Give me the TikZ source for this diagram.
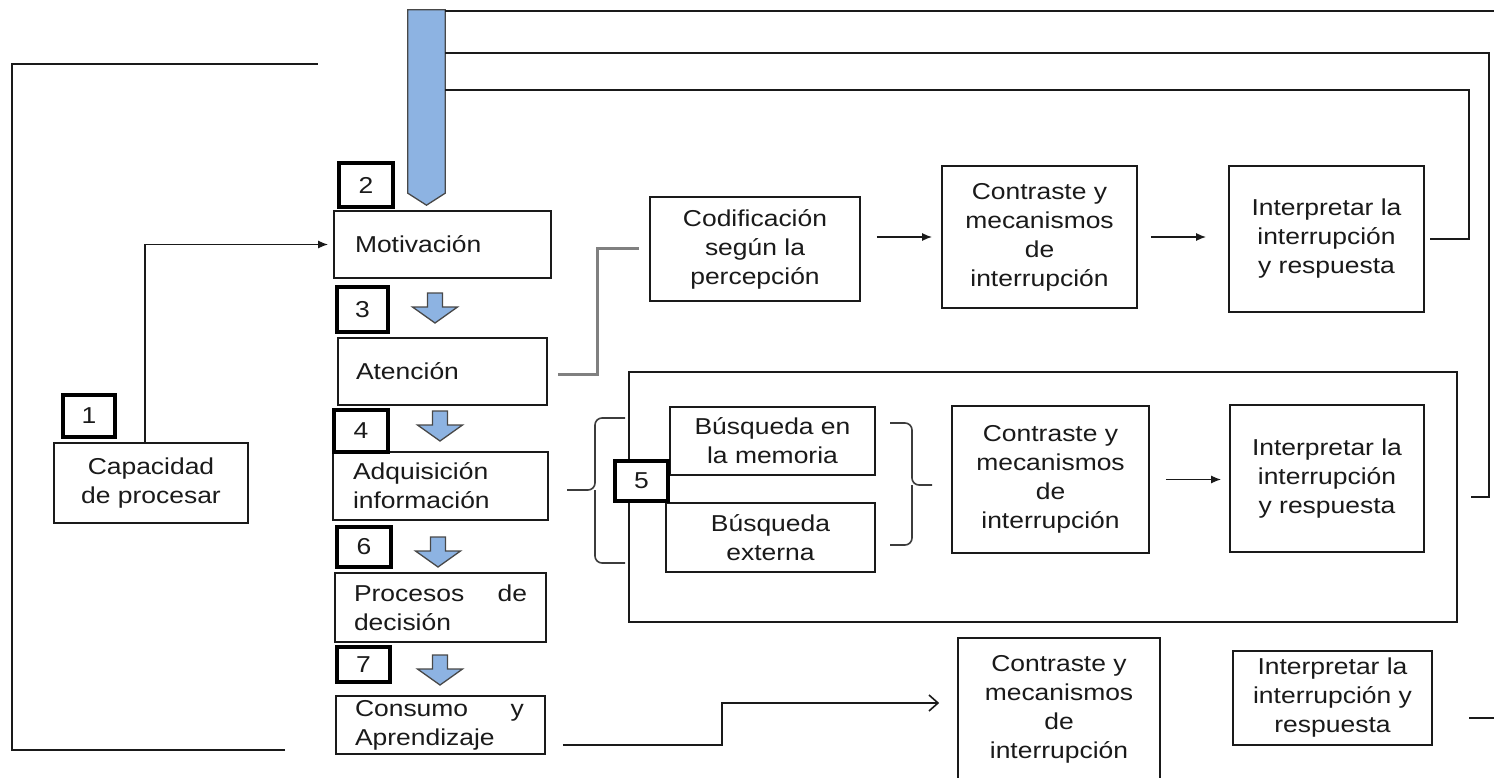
\documentclass[tikz,border=0pt]{standalone}
\usepackage{fontspec}
\setmainfont[FakeStretch=1.15]{Liberation Sans}
\usetikzlibrary{arrows.meta,calc}
\definecolor{barblue}{HTML}{8DB3E2}
\definecolor{ink}{HTML}{1A1A1A}
\definecolor{softgray}{HTML}{808080}

% rectangle node given by its two corners (x1,y1) (x2,y2)
\newcommand\mkbox[7][]{%
  \node[box,#1,minimum width={#5-#3},minimum height={#6-#4}]
    (#2) at ({(#3+#5)/2},{(#4+#6)/2}) {#7};}
% small numbered marker given by its two corners
\newcommand\mknum[6]{%
  \node[numbox,minimum width={#4-#2},minimum height={#5-#3}]
    (#1) at ({(#2+#4)/2},{(#3+#5)/2}) {#6};}
% blue block arrow pointing down: centre x, top y
\newcommand\blockdown[2]{%
  \draw[bluefill] ({#1-7.5},{#2}) -- ({#1+7.5},{#2}) -- ({#1+7.5},{#2+14})
    -- ({#1+22.5},{#2+14}) -- ({#1},{#2+30}) -- ({#1-22.5},{#2+14})
    -- ({#1-7.5},{#2+14}) -- cycle;}

\begin{document}
\begin{tikzpicture}[x=1pt,y=-1pt,
  font=\fontsize{23}{29}\selectfont, text=ink,
  box/.style={draw=ink, line width=1.6pt, inner sep=0pt, align=center, fill=white},
  numbox/.style={draw=black, line width=3.2pt, inner sep=0pt, fill=white},
  wire/.style={draw=ink, line width=1.6pt},
  arr/.style={wire, -{Latex[length=10pt,width=8pt]}},
  openarr/.style={wire, -{Straight Barb[length=9pt,width=16pt,line width=1.6pt]}},
  bluefill/.style={fill=barblue, draw=ink!80, line width=1.3pt, line join=miter},
  brace/.style={draw=ink!85, line width=1.6pt, rounded corners=7pt},
]
\path[use as bounding box] (0,0) rectangle (1494,778);
\clip (0,0) rectangle (1494,778);

% ---- left column ----
\mkbox[align=left,text width=175pt]{motiv}{334}{211}{551}{278}{Motivación}
\mkbox[align=left,text width=173pt]{aten}{338}{338}{547}{405}{Atención}
\mkbox[align=left,text width=175pt]{adq}{333}{452}{548}{520}{Adquisición\\información}
\mkbox[align=left,text width=173pt]{proc}{335}{573}{546}{642}{\makebox[173pt][s]{Procesos\hfill de}\\decisión}
\mkbox[align=left,text width=171pt]{cons}{336}{696}{545}{754}{\makebox[169pt][s]{Consumo\hfill y}\\Aprendizaje}
\mkbox{cap}{54}{443}{248}{523}{Capacidad\\de procesar}

% ---- upper row ----
\mkbox{codif}{650}{197}{860}{301}{Codificación\\según la\\percepción}
\mkbox{contrA}{942}{166}{1137}{308}{Contraste y\\mecanismos\\de\\interrupción}
\mkbox{interpA}{1229}{166}{1424}{312}{Interpretar la\\interrupción\\y respuesta}

% ---- search group ----
\mkbox[fill=none]{grp}{629}{372}{1457}{622}{}
\mkbox{busqA}{670}{407}{875}{475}{Búsqueda en\\la memoria}
\mkbox{busqB}{666}{503}{875}{572}{Búsqueda\\externa}
\mkbox{contrB}{952}{406}{1149}{553}{Contraste y\\mecanismos\\de\\interrupción}
\mkbox{interpB}{1230}{405}{1424}{552}{Interpretar la\\interrupción\\y respuesta}

% ---- lower row ----
\mkbox{contrC}{958}{638}{1160}{780}{Contraste y\\mecanismos\\de\\interrupción}
\mkbox{interpC}{1233}{651}{1432}{745}{Interpretar la\\interrupción y\\respuesta}

% ---- feedback bar ----
\node[minimum width=37pt, minimum height=195pt, inner sep=0pt] (bar) at (426.5,107.5) {};
\draw[bluefill] (bar.north west) -- (bar.north east) -- ([yshift=12pt]bar.south east)
  -- (bar.south) -- ([yshift=12pt]bar.south west) -- cycle;

% ---- block arrows between stages ----
\blockdown{435}{293}
\blockdown{440}{411}
\blockdown{438}{537}
\blockdown{440}{655}

% ---- connectors ----
\draw[arr, shorten >=5pt] ([xshift=-6pt]cap.north) |- (motiv.west);
\draw[draw=softgray, line width=3pt]
  ([xshift=10pt,yshift=-2.5pt]aten.east) -| ([xshift=-52pt]codif.west) -- ([xshift=-10pt]codif.west);
\draw[arr] ([xshift=16pt]codif.east |- contrA.west) -- ([xshift=-9pt]contrA.west);
\draw[arr] ([xshift=13pt]contrA.east) -- ([xshift=-22pt]contrA.east -| interpA.west);
\draw[arr] ([xshift=16pt]contrB.east) -- ([xshift=-8pt]contrB.east -| interpB.west);
\draw[openarr] ([xshift=17pt,yshift=-20pt]cons.east) -| ([xshift=-235pt,yshift=6pt]contrC.west)
  -- ([xshift=-18pt,yshift=6pt]contrC.west);

% feedback lines leaving the bar
\draw[wire] (bar.north east |- 0,11) -- (1510,11) |- ([xshift=36pt]interpC.east |- 0,718);
\draw[wire] (bar.north east |- 0,53) -| ([xshift=31pt]grp.east) -- ([xshift=13pt]grp.east);
\draw[wire] (bar.north east |- 0,90) -| ([xshift=44pt]interpA.east) -- ([xshift=5pt]interpA.east);

% outer loop on the left
\coordinate (loopTop) at (318,64);
\coordinate (loopBot) at (285,750);
\draw[wire] (loopBot) -| (12,64) -- (loopTop);

% braces around the two searches
\draw[brace] (625,418) -| (595,490) -- (567,490);
\draw[brace] (625,563) -| (595,490);
\draw[brace] (890,423) -| (912,485) -- (932,485);
\draw[brace] (890,545) -| (912,485);

% ---- numbered markers ----
\mknum{nA}{63}{395}{115}{437}{1}
\mknum{nB}{339}{163}{393}{207}{2}
\mknum{nC}{337}{287}{388}{332}{3}
\mknum{nD}{334}{410}{388}{452}{4}
\mknum{nE}{615}{461}{668}{501}{5}
\mknum{nF}{337}{527}{391}{567}{6}
\mknum{nG}{337}{647}{390}{682}{7}
\end{tikzpicture}
\end{document}
